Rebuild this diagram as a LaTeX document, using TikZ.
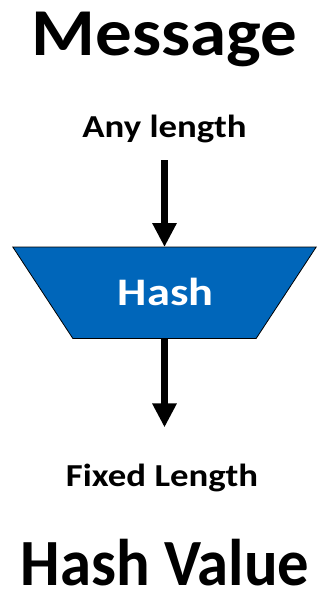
\documentclass[tikz,border=0pt]{standalone}
\usepackage{fontspec}
\setmainfont{Carlito}
\usetikzlibrary{arrows.meta,calc}
\definecolor{hashblue}{RGB}{0,102,186}
\newcommand{\wide}[2]{\scalebox{#1}[1]{#2}}
\begin{document}
\begin{tikzpicture}[x=1pt,y=-1pt,
  title/.style={font=\bfseries\fontsize{67}{67}\selectfont, anchor=base, inner sep=0pt},
  caption/.style={font=\bfseries\fontsize{32}{32}\selectfont, anchor=base, inner sep=0pt},
  flow/.style={line width=7pt, -{Triangle[length=24pt,width=23pt]}},
  body/.style={minimum width=183pt, minimum height=91pt, inner sep=0pt, anchor=north}]
\useasboundingbox (0,0) rectangle (331,589);

% input side
\node[title] (msg) at (164.5,55) {\wide{1.09}{Message}};
\node[caption] (anylen) at (164.5,137) {\wide{1.15}{Any length}};

% hash function block: trapezoid, wide side on top
\node[body] (hash) at (164.5,247) {};
\filldraw[fill=hashblue, draw=black, line width=0.8pt]
  ($(hash.north west)+(-60,0)$) -- ($(hash.north east)+(60,0)$)
  -- (hash.south east) -- (hash.south west) -- cycle;
\node[anchor=base, inner sep=0pt, text=white,
      font=\bfseries\fontsize{39}{39}\selectfont]
  (hashlbl) at (165.8,305) {\wide{1.19}{Hash}};

% output side
\node[caption] (fixlen) at (162,486.7) {\wide{1.15}{Fixed Length}};
\node[title, font=\bfseries\fontsize{66}{66}\selectfont]
  (hval) at (164.9,585) {\wide{0.95}{Hash Value}};

% connectors
\coordinate (inTop) at ($(anylen.base -| hash.north)+(0,23)$);
\coordinate (outTip) at ($(hash.south)+(0,89)$);
\draw[flow] (inTop) -- (hash.north);
\draw[flow] (hash.south) -- (outTip);
\end{tikzpicture}
\end{document}
